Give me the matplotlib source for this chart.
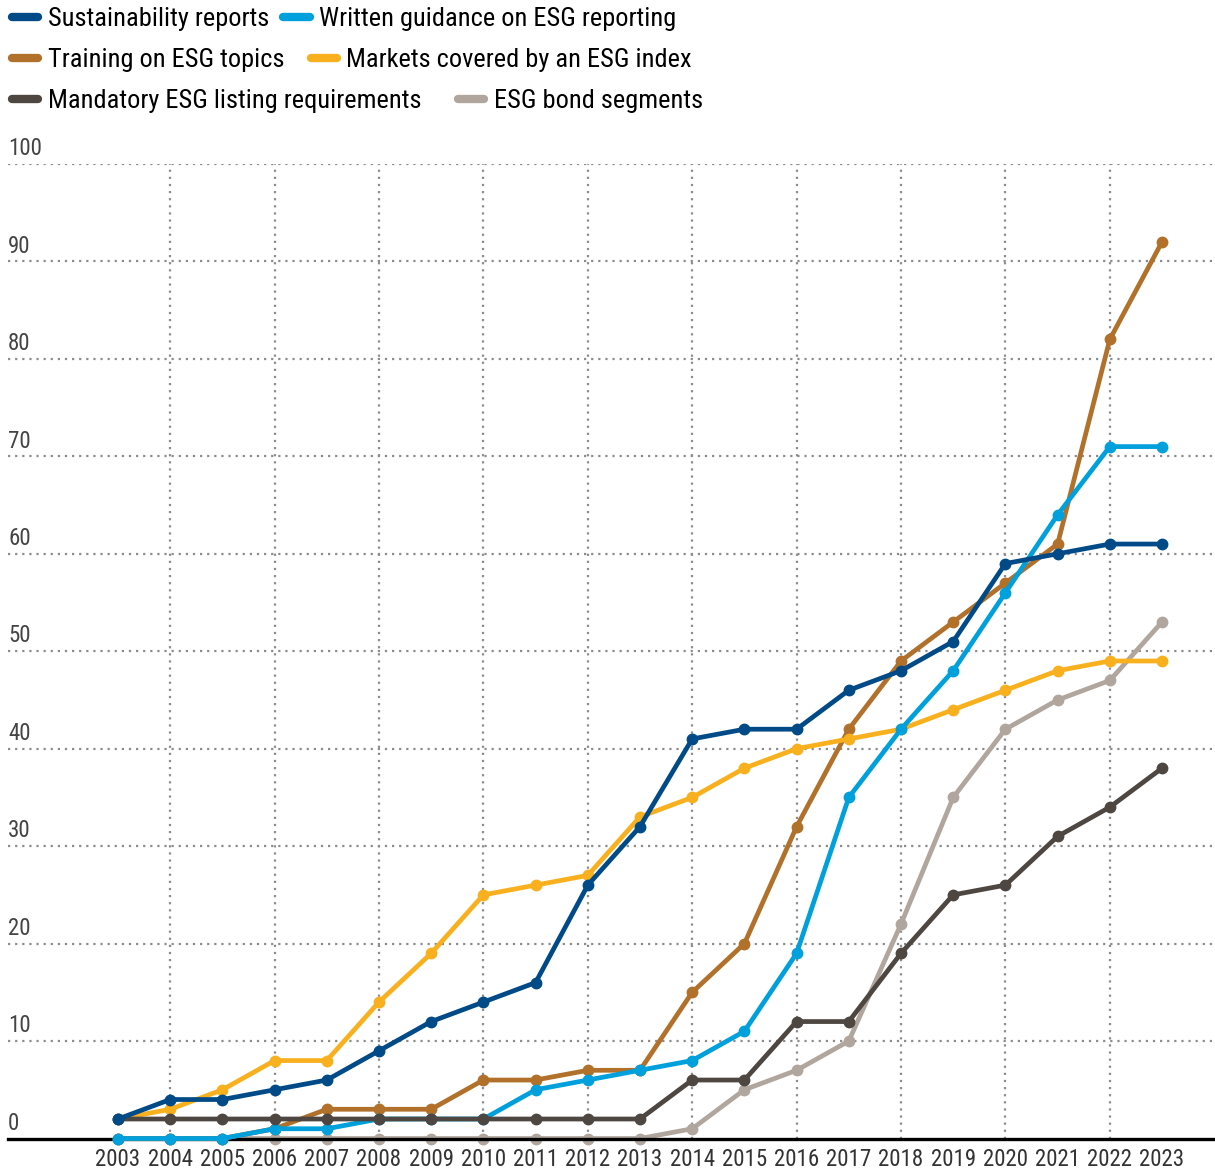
import matplotlib
matplotlib.use("Agg")
import matplotlib.pyplot as plt
from matplotlib.lines import Line2D

plt.rcParams['font.family'] = ['Liberation Sans Narrow', 'Roboto Condensed', 'Roboto', 'DejaVu Sans']

years = list(range(2003, 2024))
sustainability = [2, 4, 4, 5, 6, 9, 12, 14, 16, 26, 32, 41, 42, 42, 46, 48, 51, 59, 60, 61, 61]
written_guidance = [0, 0, 0, 1, 1, 2, 2, 2, 5, 6, 7, 8, 11, 19, 35, 42, 48, 56, 64, 71, 71]
training = [0, 0, 0, 1, 3, 3, 3, 6, 6, 7, 7, 15, 20, 32, 42, 49, 53, 57, 61, 82, 92]
markets_index = [2, 3, 5, 8, 8, 14, 19, 25, 26, 27, 33, 35, 38, 40, 41, 42, 44, 46, 48, 49, 49]
mandatory = [2, 2, 2, 2, 2, 2, 2, 2, 2, 2, 2, 6, 6, 12, 12, 19, 25, 26, 31, 34, 38]
bond_segments = [0, 0, 0, 0, 0, 0, 0, 0, 0, 0, 0, 1, 5, 7, 10, 22, 35, 42, 45, 47, 53]

series_names = ["Sustainability reports", "Written guidance on ESG reporting",
                "Training on ESG topics", "Markets covered by an ESG index",
                "Mandatory ESG listing requirements", "ESG bond segments"]
y_ticks = [0, 10, 20, 30, 40, 50, 60, 70, 80, 90, 100]
grid_years = list(range(2004, 2023, 2))

colors = {
    "Sustainability reports": "#004B87",
    "Written guidance on ESG reporting": "#00A0DC",
    "Training on ESG topics": "#B1712B",
    "Markets covered by an ESG index": "#F8B01E",
    "Mandatory ESG listing requirements": "#4D4641",
    "ESG bond segments": "#B0A69E",
}
data = {
    "Sustainability reports": sustainability,
    "Written guidance on ESG reporting": written_guidance,
    "Training on ESG topics": training,
    "Markets covered by an ESG index": markets_index,
    "Mandatory ESG listing requirements": mandatory,
    "ESG bond segments": bond_segments,
}
zorders = {
    "ESG bond segments": 3,
    "Training on ESG topics": 5,
    "Markets covered by an ESG index": 6,
    "Written guidance on ESG reporting": 7,
    "Mandatory ESG listing requirements": 8,
    "Sustainability reports": 9,
}

W, H = 1215, 1176
fig = plt.figure(figsize=(W / 100, H / 100), dpi=100)
left_px, right_px = 8, 1215
top_px, bottom_px = 164, 1138.5
ax = fig.add_axes([left_px / W, 1 - bottom_px / H, (right_px - left_px) / W, (bottom_px - top_px) / H])

step = (1162 - 118) / 20
ax.set_xlim(2003 - (118 - left_px) / step, 2023 + (right_px - 1162) / step)
ax.set_ylim(0, 100)

for s in ax.spines.values():
    s.set_visible(False)

# grid
grid_col = "#8c8c8c"
for v in y_ticks[1:]:
    ax.axhline(v, color=grid_col, lw=1.6, ls=(0, (1, 2.2)), zorder=1)
ax.vlines(grid_years, 0, 100, color=grid_col, lw=1.6, ls=(0, (1, 2.2)), zorder=1)
ax.axhline(0, color="black", lw=2.4, zorder=4, clip_on=False)

for name in series_names:
    ax.plot(years, data[name], color=colors[name], lw=3.4, marker='o', ms=7.5,
            solid_capstyle='round', zorder=zorders[name], clip_on=False)

# y labels above grid lines
for v in y_ticks:
    ax.annotate(str(v), xy=(0, v), xycoords=('axes fraction', 'data'), xytext=(0, 11),
                textcoords='offset points', ha='left', va='center', fontsize=16.5, color='#444444')
ax.set_yticks([])

ax.set_xticks(years)
ax.set_xticklabels([str(y) for y in years], fontsize=16.5, color='#333333')
ax.tick_params(axis='x', length=0, pad=7)

# legend rows
rows = [(series_names[0], series_names[1]), (series_names[2], series_names[3]), (series_names[4], series_names[5])]
row_y = [19, 60, 101]
row_spacing = [0.55, 1.0, 1.4]
for (a, b), yc, cs in zip(rows, row_y, row_spacing):
    hs = [Line2D([0], [0], color=colors[n], lw=6, solid_capstyle='round') for n in (a, b)]
    fig.legend(hs, [a, b], loc='center left', bbox_to_anchor=(12 / W, 1 - yc / H), ncol=2,
               frameon=False, fontsize=19, handlelength=1.0, handletextpad=0.35,
               columnspacing=cs, borderpad=0, borderaxespad=0)

fig.savefig("out.png", dpi=100)
